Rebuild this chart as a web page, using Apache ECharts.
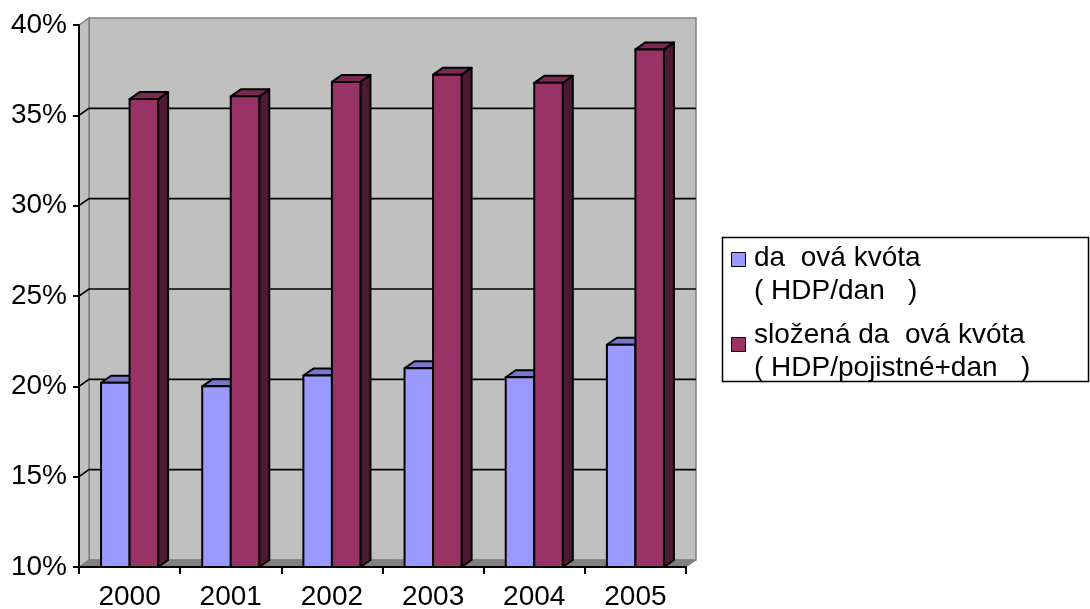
<!DOCTYPE html>
<html>
<head>
<meta charset="utf-8">
<script src="https://cdn.jsdelivr.net/npm/echarts@6/dist/echarts.min.js"></script>
<style>
  html, body { margin: 0; padding: 0; background: #ffffff; }
  #chart { width: 1090px; height: 609px; }
</style>
</head>
<body>
<div id="chart"></div>
<script>
// Years on the category axis
const years = ['2000', '2001', '2002', '2003', '2004', '2005'];
// Tax quota (share of GDP)
const taxQuota = [0.202, 0.200, 0.206, 0.210, 0.205, 0.223];
// Composite tax quota including social insurance
const compositeQuota = [0.359, 0.3605, 0.3685, 0.3725, 0.368, 0.3865];
// Series names as printed in the legend
const seriesNames = ['da  ová kvóta\n( HDP/dan   )', 'složená da  ová kvóta\n( HDP/pojistné+dan   )'];
// Value axis range and the gridline levels on the back wall
const yMin = 0.10, yMax = 0.40, yStep = 0.05;
const gridLevels = [0.15, 0.20, 0.25, 0.30, 0.35];

// Depth offset of the pseudo-3D box
const DX = 10, DY = -7;
const FONT = '"Liberation Sans", Arial, sans-serif';
const COLORS = [
  { front: '#9999FF', top: '#7777CC', side: '#5C5C99' },
  { front: '#993366', top: '#7A2952', side: '#4D1A33' }
];

function wallRender(params, api) {
  const cs = params.coordSys;
  const x = cs.x, y = cs.y, w = cs.width, h = cs.height;
  return {
    type: 'group',
    children: [
      { type: 'rect', shape: { x: x + DX, y: y + DY, width: w, height: h },
        style: { fill: '#C0C0C0', stroke: '#808080', lineWidth: 1.5 } },
      { type: 'polygon', shape: { points: [[x, y], [x + DX, y + DY], [x + DX, y + h + DY], [x, y + h]] },
        style: { fill: '#C0C0C0', stroke: '#808080', lineWidth: 1.5 } },
      { type: 'polygon', shape: { points: [[x, y + h], [x + DX, y + h + DY], [x + w + DX, y + h + DY], [x + w, y + h]] },
        style: { fill: '#808080', stroke: '#808080', lineWidth: 1 } }
    ]
  };
}

function gridRender(params, api) {
  const cs = params.coordSys;
  const p = api.coord([0, api.value(1)]);
  const y = p[1];
  return {
    type: 'polyline',
    shape: { points: [[cs.x, y], [cs.x + DX, y + DY], [cs.x + cs.width + DX, y + DY]] },
    style: { stroke: '#000000', lineWidth: 1.6, fill: null }
  };
}

function barRender(side, colors) {
  return function (params, api) {
    const i = api.value(0), v = api.value(1);
    const top = api.coord([i, v]);
    const base = api.coord([i, yMin]);
    const w = api.size([1, 0])[0] * 0.282;
    const x0 = side < 0 ? top[0] - w : top[0];
    const x1 = x0 + w;
    const yt = top[1], yb = base[1];
    const st = { stroke: '#000000', lineWidth: 2, lineJoin: 'round' };
    return {
      type: 'group',
      children: [
        { type: 'polygon', shape: { points: [[x1, yt], [x1 + DX, yt + DY], [x1 + DX, yb + DY], [x1, yb]] },
          style: Object.assign({ fill: colors.side }, st) },
        { type: 'polygon', shape: { points: [[x0, yt], [x0 + DX, yt + DY], [x1 + DX, yt + DY], [x1, yt]] },
          style: Object.assign({ fill: colors.top }, st) },
        { type: 'rect', shape: { x: x0, y: yt, width: w, height: yb - yt },
          style: Object.assign({ fill: colors.front }, st) }
      ]
    };
  };
}

// Legend box drawn as graphic elements
const legendItems = seriesNames.map((name, k) => ({
  type: 'group',
  children: [
    { type: 'rect', shape: { x: 731.5, y: 252.5, width: 14, height: 14 },
      style: { fill: COLORS[k].front, stroke: '#000000', lineWidth: 1 }, y: k * 85 },
    { type: 'text', x: 754, y: 242 + k * 77,
      style: { text: name, fill: '#000000', fontSize: 28, fontFamily: FONT, lineHeight: 33, verticalAlign: 'top' } }
  ]
}));

const chart = echarts.init(document.getElementById('chart'), null, { renderer: 'canvas' });
chart.setOption({
  animation: false,
  backgroundColor: '#ffffff',
  grid: { left: 79, right: 404, top: 25, bottom: 42, containLabel: false, outerBoundsMode: 'none' },
  xAxis: {
    type: 'category',
    data: years,
    boundaryGap: true,
    axisLine: { show: true, lineStyle: { color: '#000000', width: 2 } },
    axisTick: { show: true, length: 7, lineStyle: { color: '#000000', width: 2 } },
    axisLabel: { color: '#000000', fontSize: 28, fontFamily: FONT, margin: 16 },
    splitLine: { show: false },
    z: 10
  },
  yAxis: {
    type: 'value',
    min: yMin, max: yMax, interval: yStep,
    axisLine: { show: true, lineStyle: { color: '#000000', width: 2 } },
    axisTick: { show: true, length: 6, lineStyle: { color: '#000000', width: 2 } },
    axisLabel: { color: '#000000', fontSize: 28, fontFamily: FONT, margin: 12, padding: [4, 0, 0, 0],
      formatter: v => Math.round(v * 100) + '%' },
    splitLine: { show: false },
    z: 10
  },
  graphic: [
    { type: 'rect', shape: { x: 722.5, y: 237.5, width: 366, height: 144 },
      style: { fill: '#ffffff', stroke: '#000000', lineWidth: 1.5 } }
  ].concat(legendItems),
  series: [
    { type: 'custom', name: 'walls', silent: true, clip: false, z: 1,
      data: [[0, yMin]], renderItem: wallRender },
    { type: 'custom', name: 'gridlines', silent: true, clip: false, z: 2,
      data: gridLevels.map(v => [0, v]), renderItem: gridRender },
    { type: 'custom', name: seriesNames[0], clip: false, z: 3,
      data: taxQuota.map((v, i) => [i, v]), renderItem: barRender(-1, COLORS[0]) },
    { type: 'custom', name: seriesNames[1], clip: false, z: 4,
      data: compositeQuota.map((v, i) => [i, v]), renderItem: barRender(1, COLORS[1]) }
  ]
});
</script>
</body>
</html>
